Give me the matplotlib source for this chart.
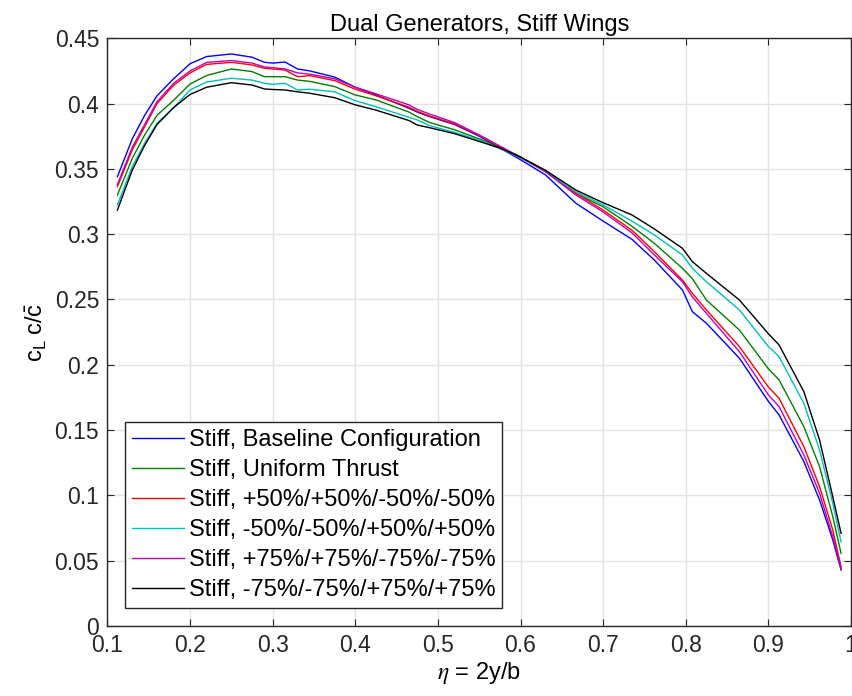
import matplotlib
matplotlib.use("Agg")
import matplotlib.pyplot as plt

plt.rcParams["font.family"] = ["Liberation Sans", "DejaVu Sans"]
plt.rcParams["mathtext.fontset"] = "stix"

eta = [0.112, 0.13, 0.145, 0.16, 0.18, 0.2, 0.22, 0.25, 0.275, 0.29, 0.30, 0.315,
       0.33, 0.345, 0.375, 0.40, 0.425, 0.465, 0.475, 0.49, 0.52, 0.55, 0.575, 0.60, 0.63,
       0.667, 0.70, 0.735, 0.762, 0.796, 0.808, 0.825, 0.865, 0.90, 0.913, 0.943,
       0.962, 0.978, 0.988]

baseline = [0.344, 0.373, 0.391, 0.406, 0.419, 0.4305, 0.436, 0.438, 0.4355, 0.4316, 0.431, 0.4318,
            0.4265, 0.425, 0.4203, 0.4125, 0.4066, 0.3964, 0.3935, 0.390, 0.384, 0.375, 0.366, 0.357, 0.3455,
            0.3237, 0.310, 0.296, 0.2802, 0.2573, 0.2407, 0.2318, 0.205, 0.172, 0.1616, 0.1259,
            0.0965, 0.0659, 0.0429]
uniform = [0.330, 0.358, 0.376, 0.391, 0.4025, 0.415, 0.4215, 0.4265, 0.4245, 0.4206, 0.4206, 0.4206,
           0.418, 0.417, 0.413, 0.4066, 0.4028, 0.3935, 0.390, 0.3855, 0.380, 0.373, 0.3665, 0.359, 0.348,
           0.3313, 0.321, 0.306, 0.293, 0.2739, 0.266, 0.2496, 0.2266, 0.197, 0.1884, 0.1526,
           0.122, 0.0837, 0.0557]
p50 = [0.3364, 0.3645, 0.3823, 0.400, 0.414, 0.4235, 0.430, 0.4316, 0.4296, 0.427, 0.4265, 0.4257,
       0.4206, 0.4214, 0.4176, 0.411, 0.406, 0.3972, 0.394, 0.3905, 0.3845, 0.3755, 0.367, 0.359, 0.3486,
       0.3313, 0.3185, 0.303, 0.2866, 0.2649, 0.2547, 0.242, 0.2139, 0.183, 0.1743, 0.1373,
       0.1067, 0.0735, 0.0454]
m50 = [0.3224, 0.3517, 0.3696, 0.385, 0.3965, 0.4105, 0.4165, 0.4194, 0.418, 0.4155, 0.4147, 0.4155,
       0.4104, 0.411, 0.409, 0.4022, 0.3976, 0.3895, 0.3875, 0.383, 0.378, 0.372, 0.3655, 0.3585, 0.348,
       0.3325, 0.3224, 0.310, 0.2994, 0.2841, 0.2739, 0.2636, 0.242, 0.214, 0.2062, 0.1705,
       0.1348, 0.094, 0.0645]
p75 = [0.338, 0.3665, 0.384, 0.4015, 0.4155, 0.425, 0.4315, 0.433, 0.431, 0.428, 0.4275, 0.4265,
       0.4235, 0.4225, 0.419, 0.4125, 0.4075, 0.399, 0.3955, 0.392, 0.3855, 0.376, 0.3675, 0.359, 0.348,
       0.330, 0.317, 0.301, 0.2841, 0.2636, 0.252, 0.2394, 0.21, 0.177, 0.1679, 0.1309,
       0.1016, 0.0684, 0.0442]
m75 = [0.3185, 0.349, 0.368, 0.384, 0.397, 0.407, 0.4125, 0.416, 0.4142, 0.4112, 0.4108, 0.4104,
       0.409, 0.4079, 0.4045, 0.399, 0.395, 0.387, 0.3836, 0.3815, 0.377, 0.371, 0.366, 0.359, 0.349,
       0.3338, 0.3241, 0.3147, 0.304, 0.2892, 0.279, 0.27, 0.2496, 0.2238, 0.2152, 0.1794,
       0.1424, 0.099, 0.071]

labels = ["Stiff, Baseline Configuration", "Stiff, Uniform Thrust",
          "Stiff, +50%/+50%/-50%/-50%", "Stiff, -50%/-50%/+50%/+50%",
          "Stiff, +75%/+75%/-75%/-75%", "Stiff, -75%/-75%/+75%/+75%"]
series = [baseline, uniform, p50, m50, p75, m75]
colors = ["b", "g", "r", "c", "m", "k"]

fig = plt.figure(figsize=(8.53, 6.96), dpi=100)
ax = fig.add_axes([0.126, 0.1006, 0.8716, 0.8444])

for y, lab, col in zip(series, labels, colors):
    ax.plot(eta, y, color=col, lw=1.0, label=lab)

ax.set_xlim(0.1, 1)
ax.set_ylim(0, 0.45)
ax.set_xticks([0.1, 0.2, 0.3, 0.4, 0.5, 0.6, 0.7, 0.8, 0.9, 1.0])
ax.set_xticklabels(["0.1", "0.2", "0.3", "0.4", "0.5", "0.6", "0.7", "0.8", "0.9", "1"])
ax.set_yticks([0, 0.05, 0.1, 0.15, 0.2, 0.25, 0.3, 0.35, 0.4, 0.45])
ax.set_yticklabels(["0", "0.05", "0.1", "0.15", "0.2", "0.25", "0.3", "0.35", "0.4", "0.45"])
ax.grid(True, color="#e3e3e3", lw=1.0)
ax.set_axisbelow(True)
ax.tick_params(direction="in", top=True, right=True, labelsize=16.5, length=5,
               color="#262626", labelcolor="#262626", pad=6)
for s in ax.spines.values():
    s.set_color("#262626")
    s.set_linewidth(1.0)

ax.set_title("Dual Generators, Stiff Wings", fontsize=17, pad=5)
ax.set_xlabel(r"$\eta$ = 2y/b", fontsize=17, labelpad=2)
ax.set_ylabel(r"$\mathregular{c_L\ c/\bar{c}}$", fontsize=17, labelpad=4)

leg = ax.legend(loc="lower left", bbox_to_anchor=(0.0235, 0.0306), borderaxespad=0,
                fontsize=17, fancybox=False, framealpha=1, edgecolor="#262626",
                handlelength=2.2, labelspacing=0.34, borderpad=0.3, handletextpad=0.2)
leg.get_frame().set_linewidth(1.0)

fig.savefig("out.png", dpi=100)
